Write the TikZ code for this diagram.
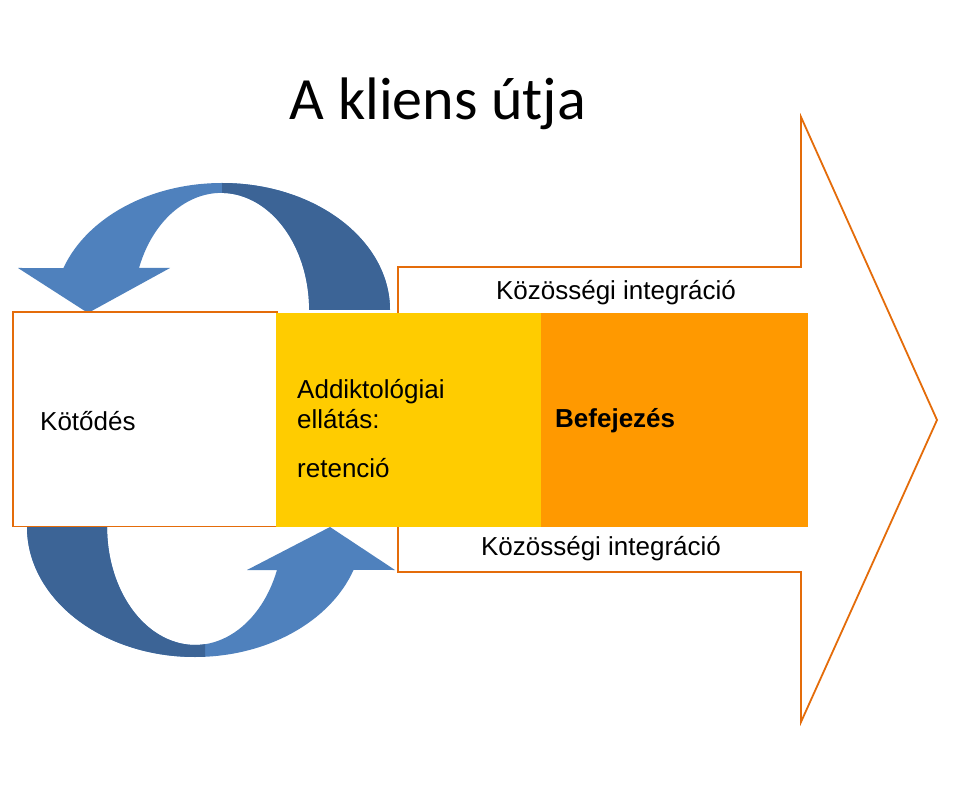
\documentclass[tikz,border=0pt]{standalone}
\usepackage{fontspec}
\setmainfont{Liberation Sans}
\newfontfamily\titlefont{Carlito}
\definecolor{arrOr}{HTML}{E46C0A}
\definecolor{lightB}{HTML}{4F81BD}
\definecolor{darkB}{HTML}{3C6496}
\definecolor{yel}{HTML}{FFCC00}
\definecolor{orn}{HTML}{FF9900}
\tikzset{lbl/.style={font=\fontsize{26}{30}\selectfont, inner sep=0pt}}
\begin{document}
\begin{tikzpicture}[x=1pt,y=1pt]
\useasboundingbox (0,0) rectangle (971,804);
\fill[white] (0,0) rectangle (971,804);
\node[font=\titlefont\fontsize{60}{70}\selectfont] (title) at (438,700) {A kliens útja};
% big arrow
\draw[arrOr, line width=1.8pt, fill=white, line join=miter]
 (398,537) -- (801,537) -- (801,687) -- (937,384) -- (801,82) -- (801,232) -- (398,232) -- cycle;
% top curved arrow
\def\toparrow{(390,494) arc[start angle=0,end angle=160.7,x radius=168,y radius=127]
 -- (18,536) -- (88,491) -- (170,536) -- (139,536)
 arc[start angle=159,end angle=0,x radius=88,y radius=117] -- cycle}
\fill[lightB] \toparrow;
\begin{scope}
\clip (222,400) rectangle (420,700);
\fill[darkB] \toparrow;
\end{scope}
% bottom curved arrow
\def\botarrow{(27,277) arc[start angle=180,end angle=340.7,x radius=168,y radius=130]
 -- (395,234) -- (330,277) -- (247,234) -- (277,234)
 arc[start angle=338.6,end angle=180,x radius=88,y radius=118] -- cycle}
\fill[lightB] \botarrow;
\begin{scope}
\clip (0,100) rectangle (205,300);
\fill[darkB] \botarrow;
\end{scope}
% boxes
\node[draw=arrOr, line width=1.5pt, fill=white, minimum width=264pt, minimum height=214pt, anchor=south west, inner sep=0pt] (b1) at (12,277) {};
\node[fill=yel, minimum width=265pt, minimum height=214pt, anchor=south west, inner sep=0pt] (b2) at (276,277) {};
\node[fill=orn, minimum width=267pt, minimum height=214pt, anchor=south west, inner sep=0pt] (b3) at (541,277) {};
\node[lbl, anchor=west] (t1) at (40,383) {Kötődés};
\node[lbl, anchor=west, align=left] (t2) at (297,400) {Addiktológiai\\ellátás:};
\node[lbl, anchor=west] (t3) at (297,336) {retenció};
\node[lbl, anchor=west, font=\bfseries\fontsize{26}{30}\selectfont] (t4) at (555,383) {Befejezés};
\node[lbl] (k1) at (616,511) {Közösségi integráció};
\node[lbl] (k2) at (601,255) {Közösségi integráció};
\end{tikzpicture}
\end{document}
